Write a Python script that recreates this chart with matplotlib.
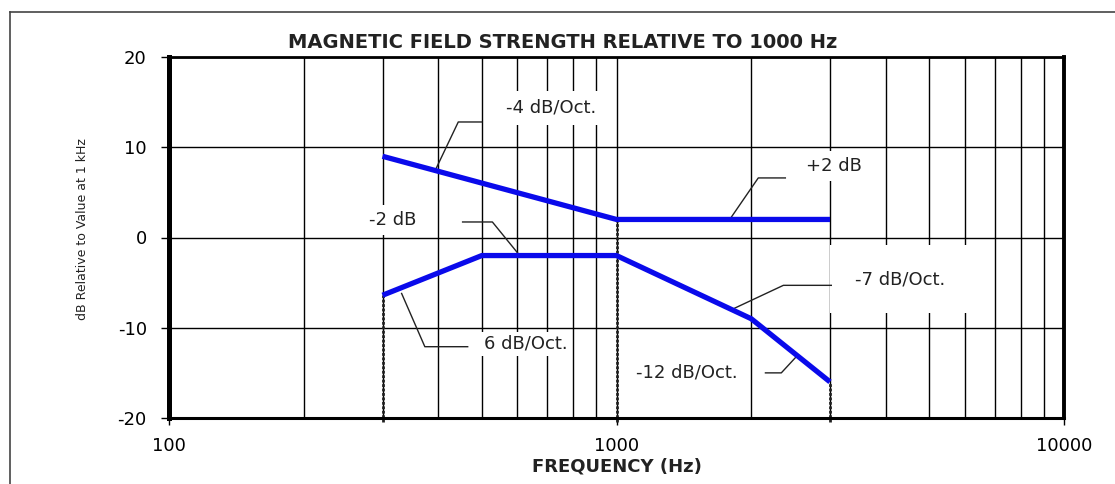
import matplotlib
matplotlib.use("Agg")
import matplotlib.pyplot as plt
from matplotlib.ticker import LogLocator, NullFormatter, FixedLocator
from matplotlib.lines import Line2D

plt.rcParams["axes.unicode_minus"] = False

# curve data (Hz, dB)
upper_freq = [300, 1000, 3000]
upper_db = [9, 2, 2]
lower_freq = [300, 500, 1000, 2000, 3000]
lower_db = [-6.4, -2, -2, -9, -16]

# drop lines at break points
drop_freq = [300, 1000, 3000]
drop_db = [-6.4, 2, -16]

x_ticks = [100, 1000, 10000]
x_ticklabels = ["100", "1000", "10000"]
y_ticks = [-20, -10, 0, 10, 20]

labels = ["-4 dB/Oct.", "-2 dB", "+2 dB", "-7 dB/Oct.", "6 dB/Oct.", "-12 dB/Oct."]
label_pos = [(713, 14.35), (316, 1.94), (3067, 7.9), (4305, -4.6), (626, -11.8), (1439, -15.0)]
label_pad = [8, 6, 6, 25, 3, 10]
leaders = [
    [(394, 7.5), (443, 12.8), (500, 12.8)],
    [(453, 1.72), (528, 1.72), (601, -1.7)],
    [(2384, 6.6), (2074, 6.6), (1808, 2.3)],
    [(3020, -5.3), (2360, -5.3), (1824, -7.9)],
    [(331, -6.2), (373, -12.1), (465, -12.1)],
    [(2152, -15.0), (2335, -15.0), (2512, -13.3)],
]

W, H = 1115, 484
fig = plt.figure(figsize=(W / 100, H / 100), dpi=100)
ax = fig.add_axes([169 / W, 66 / H, (1064 - 169) / W, (418 - 57) / H])

ax.set_xscale("log")
ax.set_xlim(100, 10000)
ax.set_ylim(-20, 20)

ax.xaxis.set_major_locator(FixedLocator(x_ticks))
ax.set_xticklabels(x_ticklabels)
ax.xaxis.set_minor_locator(LogLocator(base=10, subs=range(2, 10)))
ax.xaxis.set_minor_formatter(NullFormatter())
ax.set_yticks(y_ticks)

ax.tick_params(axis="x", which="major", length=5, width=1, pad=9, labelsize=13)
ax.tick_params(axis="x", which="minor", length=0)
ax.tick_params(axis="y", length=6, width=1, pad=10, labelsize=13)

ax.set_axisbelow(True)
ax.grid(True, axis="x", which="both", color="black", lw=1.0)
ax.grid(True, axis="y", which="major", color="black", lw=1.0)

ax.spines["left"].set_linewidth(3.6)
ax.spines["top"].set_linewidth(2)
ax.spines["bottom"].set_linewidth(2.2)
ax.spines["right"].set_linewidth(2.8)

for f, d in zip(drop_freq, drop_db):
    ax.plot([f, f], [-20.4, d], color="#222222", lw=2, ls=(0, (1, 0.6)), zorder=2, clip_on=False)

for txt, (x, y), p in zip(labels, label_pos, label_pad):
    ax.text(x, y, txt, ha="center", va="center", fontsize=13, color="#222222", zorder=3,
            bbox=dict(boxstyle="square,pad=%.2f" % (p / 18), fc="white", ec="none"))

for pts in leaders:
    xs = [p[0] for p in pts]
    ys = [p[1] for p in pts]
    ax.plot(xs, ys, color="#222222", lw=1, zorder=4)

ax.plot(upper_freq, upper_db, color="#0a0aeb", lw=3.8, zorder=5, solid_capstyle="butt")
ax.plot(lower_freq, lower_db, color="#0a0aeb", lw=3.8, zorder=5, solid_capstyle="butt")

fig.text(563 / W, 1 - 43 / H, "MAGNETIC FIELD STRENGTH RELATIVE TO 1000 Hz",
         ha="center", va="center", fontsize=14, fontweight="bold", color="#222222")
fig.text(617 / W, 1 - 466 / H, "FREQUENCY (Hz)", ha="center", va="center",
         fontsize=13, fontweight="bold", color="#222222")
fig.text(82 / W, 1 - 229 / H, "dB Relative to Value at 1 kHz", ha="center", va="center",
         rotation=90, fontsize=9, color="#222222")

# outer frame (left and top edges visible)
fig.add_artist(Line2D([10 / W, 10 / W], [0, 1 - 12 / H], transform=fig.transFigure, color="#444444", lw=1.2))
fig.add_artist(Line2D([10 / W, 1], [1 - 12 / H, 1 - 12 / H], transform=fig.transFigure, color="#444444", lw=1.2))

fig.savefig("out.png", dpi=100)
